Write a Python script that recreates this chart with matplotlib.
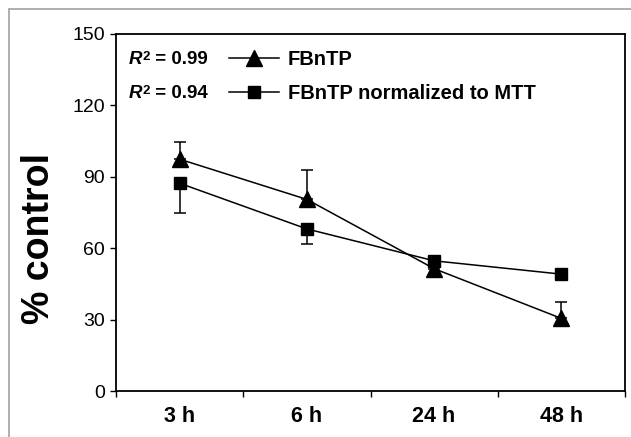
import matplotlib
matplotlib.use("Agg")
import matplotlib.pyplot as plt
from matplotlib.patches import Rectangle

plt.rcParams['font.family'] = ['Liberation Sans', 'DejaVu Sans']

categories = ["3 h", "6 h", "24 h", "48 h"]
fbntp = [97.4, 80.5, 51.4, 30.5]
fbntp_err_plus = [7.3, 12.4, 1.5, 7.0]
fbntp_mtt = [87.3, 68.1, 54.7, 49.1]
fbntp_mtt_err_minus = [12.4, 6.3, 2.0, 1.5]
r2_labels = ["0.99", "0.94"]
series_labels = ["FBnTP", "FBnTP normalized to MTT"]
yticks = [0, 30, 60, 90, 120, 150]

W, H = 631, 437
fig = plt.figure(figsize=(W / 100, H / 100), dpi=100)
fig.patch.set_facecolor('white')

# outer grey frame
fig.patches.append(Rectangle((9 / W, -0.2), 1.2, 1.2 - 9 / H,
                             transform=fig.transFigure, fill=False,
                             edgecolor='#a8a8a8', linewidth=1.3))

ax = fig.add_axes([116 / W, (H - 391) / H, (625 - 116) / W, (391 - 34) / H])
x = list(range(len(categories)))

ax.errorbar(x, fbntp, yerr=[[0] * 4, fbntp_err_plus], fmt='none', ecolor='black',
            capsize=4.5, elinewidth=1.1, capthick=1.1, zorder=2)
ax.errorbar(x, fbntp_mtt, yerr=[fbntp_mtt_err_minus, [0] * 4], fmt='none',
            ecolor='black', capsize=4.5, elinewidth=1.1, capthick=1.1, zorder=2)
l1, = ax.plot(x, fbntp, color='black', marker='^', markersize=12, linewidth=1.1,
              label=series_labels[0], zorder=3)
l2, = ax.plot(x, fbntp_mtt, color='black', marker='s', markersize=8.5,
              linewidth=1.1, label=series_labels[1], zorder=3)

ax.set_xlim(-0.5, 3.5)
ax.set_ylim(0, 150)
ax.set_yticks(yticks)
ax.set_yticklabels([str(v) for v in yticks], fontsize=14)
ax.tick_params(axis='y', direction='out', length=4, width=1, pad=4)

ax.set_xticks(x)
ax.set_xticklabels(categories, fontsize=15.5, fontweight='bold')
ax.tick_params(axis='x', which='major', length=0, pad=11)
ax.set_xticks([-0.5, 0.5, 1.5, 2.5, 3.5], minor=True)
ax.tick_params(axis='x', which='minor', direction='out', length=4.5, width=1)

for s in ax.spines.values():
    s.set_linewidth(1.3)
    s.set_color('black')

ax.set_ylabel('% control', fontsize=27, fontweight='bold')
ax.yaxis.set_label_coords((39 - 116) / 509, (391 - 238.5) / 357)
ax.yaxis.label.set_verticalalignment('center')

# legend
fs = 14.5
fs_px = fs * 100 / 72
leg = ax.legend(handles=[l1, l2], labels=series_labels, loc='upper left',
                bbox_to_anchor=(229 / W, 1 - 50 / H),
                bbox_transform=fig.transFigure, frameon=False,
                borderpad=0, borderaxespad=0, handlelength=50 / fs_px,
                handletextpad=9 / fs_px, labelspacing=0.75,
                prop={'size': fs, 'weight': 'bold'})

# R^2 annotations
for yc, val in zip([60, 94], r2_labels):
    rt = fig.text(129 / W, 1 - yc / H, 'R', fontsize=13.5, fontweight='bold',
                  fontstyle='italic', va='center', ha='left')
    two = ax.annotate('2', xy=(1.02, 1.0), xycoords=rt, va='top', ha='left',
                      fontsize=9.5, fontweight='bold')
    ax.annotate(' = ' + val, xy=(1, 0), xycoords=(two, rt), va='bottom', ha='left',
                fontsize=13.5, fontweight='bold')

fig.savefig('out.png', dpi=100)
